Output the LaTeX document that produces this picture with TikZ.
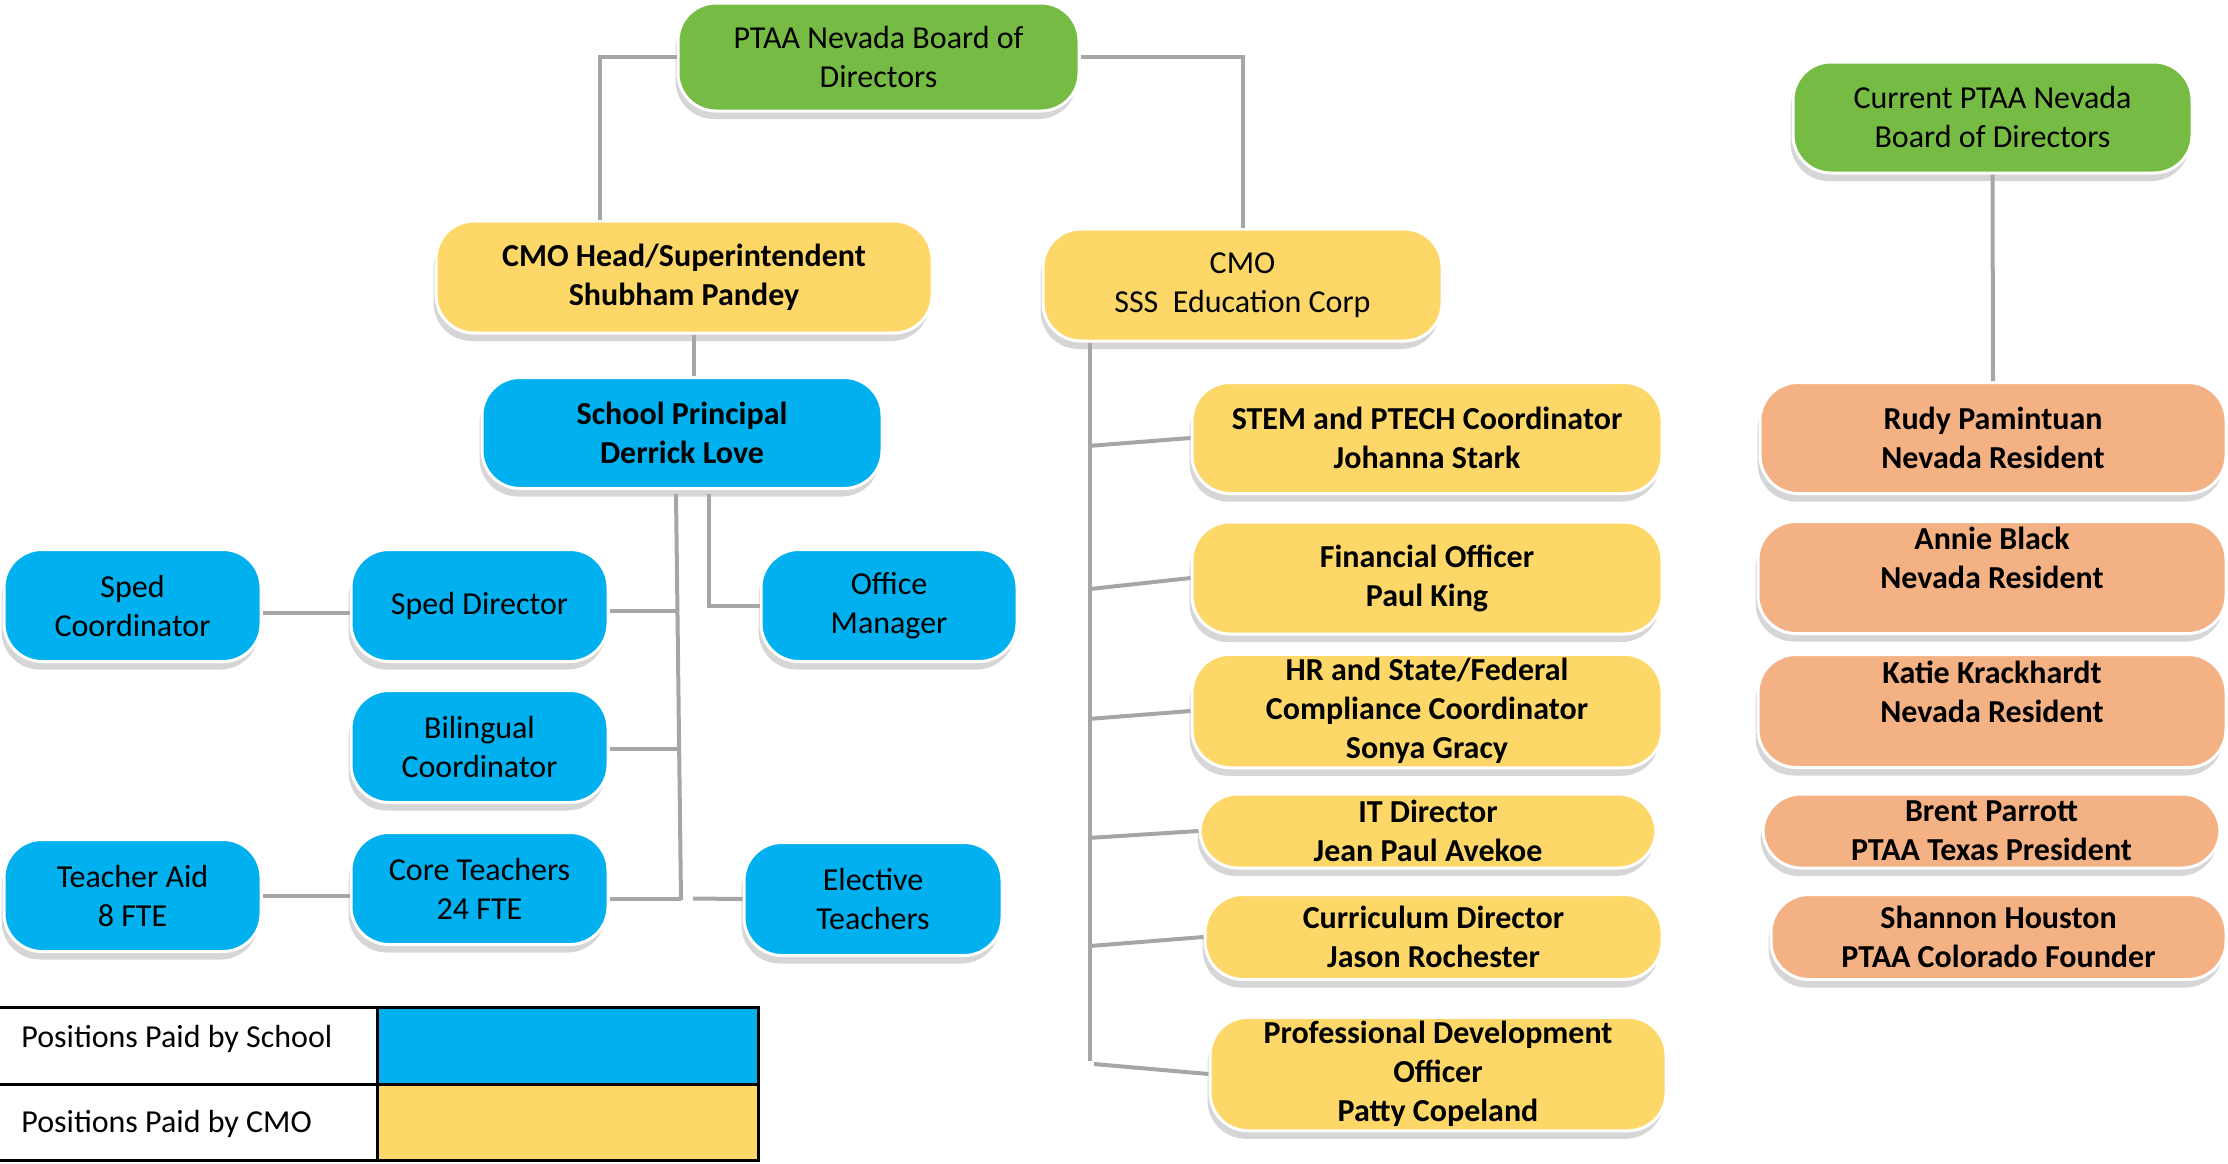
\documentclass[tikz,border=0pt]{standalone}
\usepackage{fontspec}
\setmainfont{Carlito}
\usetikzlibrary{shadows,calc}
\definecolor{cgreen}{HTML}{76BC44}
\definecolor{cyellow}{HTML}{FDD869}
\definecolor{cblue}{HTML}{00B0EF}
\definecolor{corange}{HTML}{F3B184}
\definecolor{cline}{HTML}{A6A6A6}
\definecolor{cshadow}{HTML}{D6D6D6}
\tikzset{
  orgbox/.style={rounded corners=19pt, draw=white, line width=1.5pt,
    align=center, inner sep=2pt, font=\fontsize{16}{19.5}\selectfont,
    general shadow={fill=cshadow, shadow xshift=-1.2pt, shadow yshift=-4pt}},
  gbox/.style={orgbox, fill=cgreen},
  ybox/.style={orgbox, fill=cyellow},
  bbox/.style={orgbox, fill=cblue},
  obox/.style={orgbox, fill=corange},
  bld/.style={font=\fontsize{16}{19.5}\selectfont\bfseries},
  conn/.style={draw=cline, line width=2pt},
  legtext/.style={anchor=west, font=\fontsize{16}{19.5}\selectfont, inner sep=0pt},
}
\begin{document}
\begin{tikzpicture}[x=0.5pt,y=-0.5pt]
\useasboundingbox (0,0) rectangle (2228,1163);
% top level
\node[gbox, minimum width=200.5pt, minimum height=54pt] (top) at (878.5,57) {PTAA Nevada Board of\\Directors};
\node[ybox, bld, minimum width=248pt, minimum height=56pt] (head) at (684,277) {CMO Head/Superintendent\\Shubham Pandey};
\node[bbox, bld, minimum width=200pt, minimum height=55.5pt] (principal) at (682,433) {School Principal\\Derrick Love};
\node[ybox, minimum width=199.5pt, minimum height=56pt] (cmo) at (1242.5,285) {CMO\\SSS\ \ Education Corp};
\node[gbox, minimum width=199.5pt, minimum height=55.5pt] (current) at (1992.5,117.5) {Current PTAA Nevada\\Board of Directors};
% CMO staff
\node[ybox, bld, minimum width=235pt, minimum height=55.5pt] (stem) at (1427,438) {STEM and PTECH Coordinator\\Johanna Stark};
\node[ybox, bld, minimum width=235pt, minimum height=56pt] (fin) at (1427,578) {Financial Officer\\Paul King};
\node[ybox, bld, minimum width=235pt, minimum height=56.5pt] (hr) at (1427,711) {HR and State/Federal\\Compliance Coordinator\\Sonya Gracy};
\node[ybox, bld, minimum width=228pt, minimum height=37pt] (it) at (1428,831) {IT Director\\Jean Paul Avekoe};
\node[ybox, bld, minimum width=228.5pt, minimum height=42.5pt] (cur) at (1433.5,937) {Curriculum Director\\Jason Rochester};
\node[ybox, bld, minimum width=228pt, minimum height=55.5pt] (pd) at (1438,1074) {Professional Development\\Officer\\Patty Copeland};
% board members
\node[obox, bld, minimum width=233pt, minimum height=55.5pt] (rudy) at (1993,438) {Rudy Pamintuan\\Nevada Resident};
\node[obox, bld, minimum width=234pt, minimum height=56pt] (annie) at (1992,577.5) {Annie Black\\Nevada Resident\\\mbox{}};
\node[obox, bld, minimum width=234pt, minimum height=56.5pt] (katie) at (1992,711) {Katie Krackhardt\\Nevada Resident\\\mbox{}};
\node[obox, bld, minimum width=228.5pt, minimum height=37pt] (brent) at (1991.5,831) {Brent Parrott\\PTAA Texas President};
\node[obox, bld, minimum width=227.5pt, minimum height=42.5pt] (shannon) at (1998.5,937) {Shannon Houston\\PTAA Colorado Founder};
% school staff
\node[bbox, minimum width=128.5pt, minimum height=56pt] (spedc) at (132.5,605.5) {Sped\\Coordinator};
\node[bbox, minimum width=128.5pt, minimum height=56pt] (spedd) at (479.5,605.5) {Sped Director};
\node[bbox, minimum width=128pt, minimum height=56pt] (office) at (889,605.5) {Office\\Manager};
\node[bbox, minimum width=128.5pt, minimum height=56pt] (biling) at (479.5,746.5) {Bilingual\\Coordinator};
\node[bbox, minimum width=128.5pt, minimum height=56pt] (aid) at (132.5,895.5) {Teacher Aid\\8 FTE};
\node[bbox, minimum width=128.5pt, minimum height=56pt] (core) at (479.5,888.5) {Core Teachers\\24 FTE};
\node[bbox, minimum width=129pt, minimum height=56.5pt] (elective) at (873,899) {Elective\\Teachers};
% connectors: top level
\coordinate (k1) at (600,57);
\draw[conn] (top.west) -- (k1) -- (k1 |- head.north);
\draw[conn] (top.east) -| (cmo.north);
\draw[conn] ([xshift=5pt]head.south) -- ([xshift=5pt]head.south |- principal.north);
\draw[conn] (current.south) -- (rudy.north);
% CMO trunk
\coordinate (ct) at (1090,343);
\coordinate (cb) at (1090,1061);
\draw[conn] (ct) -- (cb);
\coordinate (b1) at (1088,446);
\coordinate (b2) at (1090,589);
\coordinate (b3) at (1088,719);
\coordinate (b4) at (1088,838);
\coordinate (b5) at (1090,946);
\coordinate (b6) at (1094,1064);
\draw[conn] (b1) -- (stem.west);
\draw[conn] (b2) -- (fin.west);
\draw[conn] (b3) -- (hr.west);
\draw[conn] (b4) -- (it.west);
\draw[conn] (b5) -- (cur.west);
\draw[conn] (b6) -- (pd.west);
% principal branches
\coordinate (pa) at (676,494);
\coordinate (pz) at (681,900);
\coordinate (pb) at (709,494);
\draw[conn] (pa) -- (pz);
\draw[conn] (pb) |- (office.west);
\coordinate (s1) at (677,611);
\coordinate (s2) at (678,749);
\coordinate (s3) at (681,899);
\coordinate (s4) at (693,898.5);
\draw[conn] (spedd.east |- s1) -- (s1);
\draw[conn] (biling.east |- s2) -- (s2);
\draw[conn] (core.east |- s3) -- (s3);
\draw[conn] (s4) -- (elective.west);
\draw[conn] (spedc.east |- 0,613) -- (spedd.west |- 0,613);
\draw[conn] (aid.east) -- (aid.east -| core.west);
% legend
\fill[cblue] (377,1007) rectangle (758,1084);
\fill[cyellow] (377,1084) rectangle (758,1160);
\draw[line width=1.5pt] (0,1007) -- (758,1007) -- (758,1160) -- (0,1160);
\draw[line width=1.5pt] (0,1084) -- (758,1084);
\draw[line width=1.5pt] (377,1007) -- (377,1160);
\node[legtext] (leg1) at (21,1039) {Positions Paid by School};
\node[legtext] (leg2) at (21,1124) {Positions Paid by CMO};
\end{tikzpicture}
\end{document}
